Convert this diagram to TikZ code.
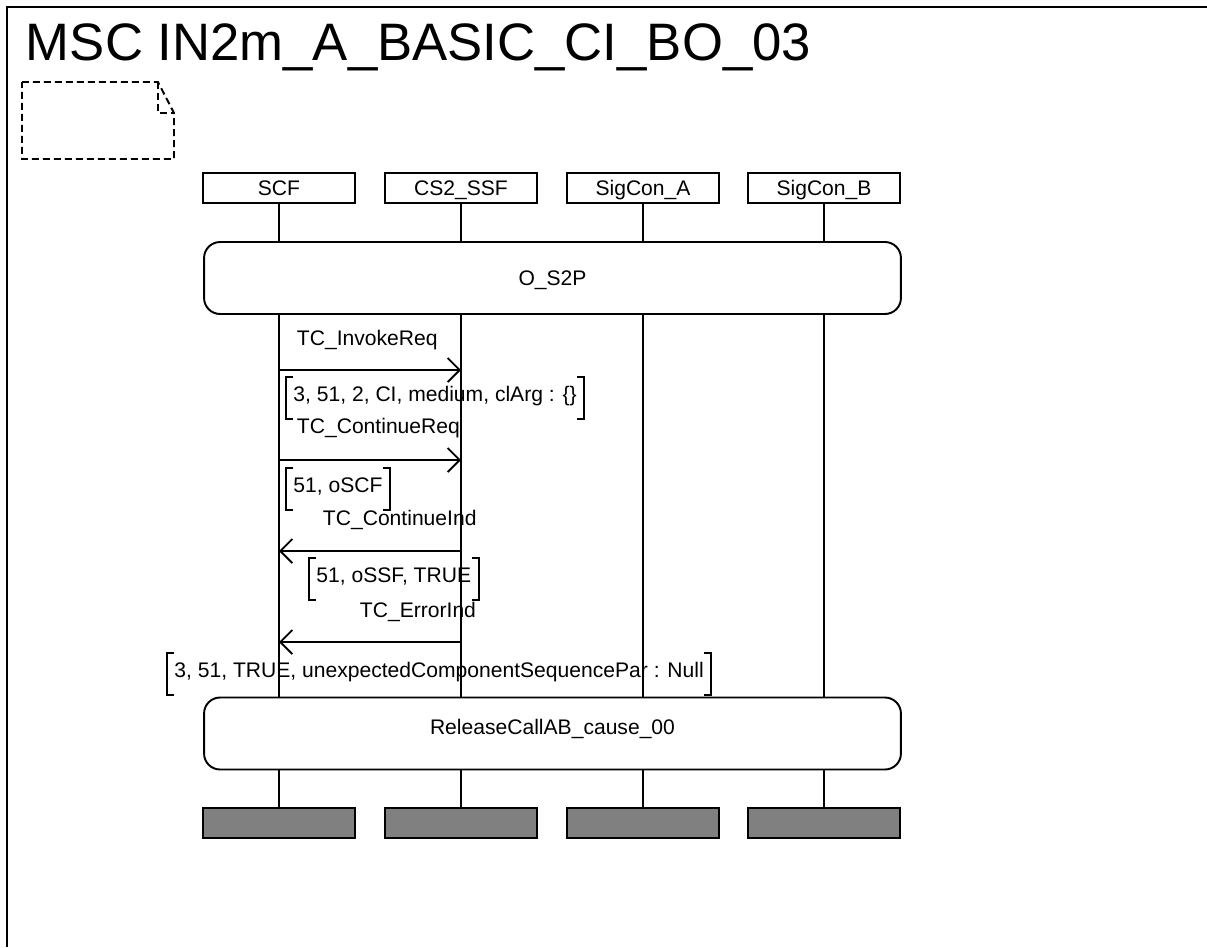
\documentclass[tikz,border=0pt]{standalone}
\usepackage{fontspec}
\setmainfont{Liberation Sans}
\usetikzlibrary{arrows.meta}

\definecolor{endgray}{RGB}{128,128,128}

\begin{document}
\begin{tikzpicture}[x=0.02cm, y=-0.02cm, line width=1.1pt,
        font=\fontsize{12}{14}\selectfont,
        inst/.style={draw, minimum width=3.04cm, minimum height=0.6cm, inner sep=0pt,
                     text height=0.3cm, text depth=0cm},
        stopbox/.style={inst, fill=endgray},
        mscref/.style={draw, rounded corners=0.32cm, minimum width=13.94cm, minimum height=1.44cm,
                       inner sep=0pt, text height=0.3cm},
        msg/.style={-{Straight Barb[length=0.24cm, width=0.48cm]}},
        lbl/.style={anchor=base west, inner sep=0pt},
        param/.style={anchor=west, minimum height=0.8cm, inner xsep=0.13cm, inner ysep=0pt,
                      text height=0.3cm, text depth=0.18cm},
        note/.style={dash pattern=on 0.14cm off 0.08cm}]

    \useasboundingbox (0,0) rectangle (1207,947);

    % --- ramka i tytul ---
    \draw[line width=0.05cm] (1207,7) -- (7,7) -- (7,947);
    \node[anchor=base west, inner sep=0pt, font=\fontsize{30}{36}\selectfont] (title) at (25,60)
        {MSC IN2m\_A\_BASIC\_CI\_BO\_03};

    % --- symbol komentarza ---
    \draw[note] (22,82) -- (158,82) -- (174,113) -- (174,159) -- (22,159) -- cycle;
    \draw[note] (158,82) -- (158,113) -- (174,113);

    % --- instancje: naglowki i zakonczenia ---
    \foreach \n/\x/\t in {scf/279/SCF, ssf/461/CS2\_SSF, sca/643/SigCon\_A, scb/824/SigCon\_B} {
        \node[inst] (\n) at (\x,188) {\t};
        \node[stopbox] (\n-end) at (\x,823) {};
    }

    % --- odwolania MSC ---
    \node[mscref, text depth=0cm] (os2p) at (552.5,278) {O\_S2P};
    \node[mscref, text depth=0.28cm] (relab) at (552.5,733.5) {ReleaseCallAB\_cause\_00};

    % --- linie zycia ---
    \foreach \n in {scf,ssf,sca,scb} {
        \draw (\n.south) -- (\n.south |- os2p.north);
        \draw (\n.south |- os2p.south) -- (\n.south |- relab.north);
        \draw (\n.south |- relab.south) -- (\n-end.north);
    }

    % --- komunikaty ---
    \foreach \a/\b/\y in {scf/ssf/370, scf/ssf/460, ssf/scf/551, ssf/scf/642} {
        \draw[msg] (\a |- 0,\y) -- (\b |- 0,\y);
    }
    \node[lbl] (l1) at (296,345) {TC\_InvokeReq};
    \node[lbl] (l2) at (296,433) {TC\_ContinueReq};
    \node[lbl] (l3) at (322,525) {TC\_ContinueInd};
    \node[lbl] (l4) at (359,617) {TC\_ErrorInd};

    % --- parametry w nawiasach ---
    \node[param] (p1) at (286,398) {3, 51, 2, CI, medium, clArg : \{\}};
    \node[param] (p2) at (286,489) {51, oSCF};
    \node[param] (p3) at (309,579) {51, oSSF, TRUE};
    \node[param] (p4) at (167,674) {3, 51, TRUE, unexpectedComponentSequencePar : Null};
    \foreach \p in {p1,p2,p3,p4} {
        \draw (\p.north west) ++(7,0) -- (\p.north west) -- (\p.south west) -- ++(7,0);
        \draw (\p.north east) ++(-7,0) -- (\p.north east) -- (\p.south east) -- ++(-7,0);
    }

\end{tikzpicture}
\end{document}
